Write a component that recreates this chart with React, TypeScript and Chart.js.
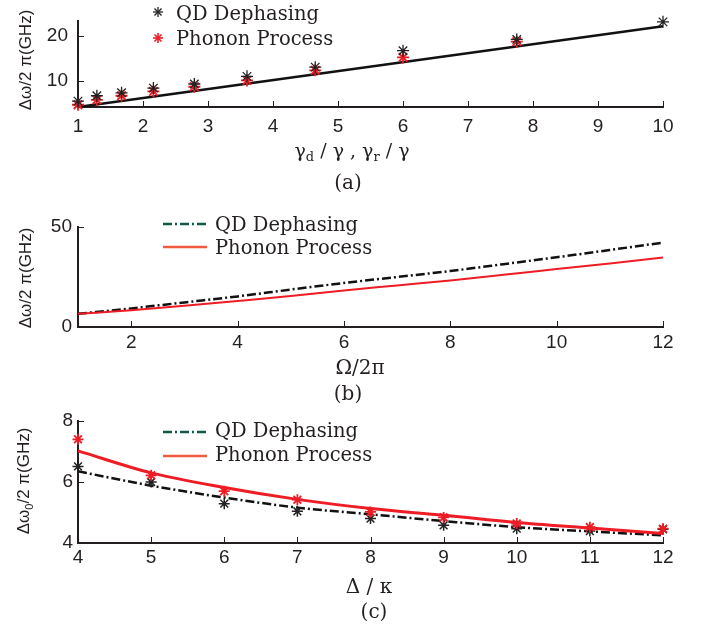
import React, { useEffect, useRef } from "react";
import { Chart, registerables } from "chart.js";
Chart.register(...registerables);

// ---------- Panel (a) ----------
const aQDX = [1, 1.29, 1.67, 2.16, 2.79, 3.6, 4.65, 6.0, 7.75, 10];
const aQD = [5.5, 6.7, 7.35, 8.4, 9.3, 11.0, 13.05, 16.7, 19.2, 23.1];
const aPhononX = [1, 1.29, 1.67, 2.16, 2.79, 3.6, 4.65, 6.0, 7.75];
const aPhonon = [4.7, 5.8, 6.7, 7.65, 8.7, 10.1, 12.35, 15.2, 18.7];
const aFitX = [1, 10];
const aFit = [4.2, 22.1];
const aXTicks = [1, 2, 3, 4, 5, 6, 7, 8, 9, 10];
const aYTicks = [10, 20];
const aXRange = [1, 10];
const aYRange = [4.2, 23.2];

// ---------- Panel (b) ----------
const bX = [1, 2, 3, 4, 5, 6, 7, 8, 9, 10, 11, 12];
const bQD = [6.6, 9.3, 12.3, 15.3, 18.7, 22.0, 25.0, 28.0, 31.4, 34.9, 38.5, 42.2];
const bPhonon = [6.6, 8.4, 10.6, 13.0, 15.5, 18.3, 20.8, 23.3, 26.1, 29.0, 31.8, 34.7];
const bXTicks = [2, 4, 6, 8, 10, 12];
const bYTicks = [0, 50];
const bXRange = [1, 12];
const bYRange = [0, 50];

// ---------- Panel (c) ----------
const cX = [4, 5, 6, 7, 8, 9, 10, 11, 12];
const cQDPts = [6.51, 6.0, 5.29, 5.04, 4.8, 4.58, 4.47, 4.39, 4.45];
const cPhononPts = [7.4, 6.22, 5.7, 5.42, 5.02, 4.84, 4.64, 4.52, 4.47];
const cQDLine = [6.35, 5.88, 5.49, 5.16, 4.94, 4.72, 4.52, 4.38, 4.25];
const cPhononLine = [7.02, 6.3, 5.82, 5.43, 5.13, 4.91, 4.67, 4.49, 4.31];
const cXTicks = [4, 5, 6, 7, 8, 9, 10, 11, 12];
const cYTicks = [4, 6, 8];
const cXRange = [4, 12];
const cYRange = [4, 8];

const AXIS = "#231f20";
const RED = "#ee1c25";
const SANS = "'Liberation Sans', Arial, sans-serif";
const SERIF = "'DejaVu Serif', 'Liberation Serif', serif";
const DASHDOT = [9, 3, 2, 3];

const pts = (xs: number[], ys: number[]) => xs.map((x, i) => ({ x, y: ys[i] }));

const inwardTicks = {
  id: "inwardTicks",
  afterDatasetsDraw(chart: any) {
    const { ctx, chartArea, scales } = chart;
    ctx.save();
    ctx.strokeStyle = AXIS;
    ctx.lineWidth = 1;
    scales.x.ticks.forEach((t: any) => {
      const px = Math.round(scales.x.getPixelForValue(t.value)) + 0.5;
      ctx.beginPath();
      ctx.moveTo(px, chartArea.bottom);
      ctx.lineTo(px, chartArea.bottom - 6);
      ctx.stroke();
    });
    scales.y.ticks.forEach((t: any) => {
      const py = Math.round(scales.y.getPixelForValue(t.value)) + 0.5;
      ctx.beginPath();
      ctx.moveTo(chartArea.left, py);
      ctx.lineTo(chartArea.left + 6, py);
      ctx.stroke();
    });
    ctx.restore();
  },
};

function axisOpts(
  axis: "x" | "y",
  range: number[],
  ticks: number[],
  fit: number,
  pad: number
) {
  return {
    type: "linear",
    min: range[0],
    max: range[1],
    afterBuildTicks: (s: any) => {
      s.ticks = ticks.map((v) => ({ value: v }));
    },
    afterFit: (s: any) => {
      if (axis === "x") s.height = fit;
      else s.width = fit;
    },
    grid: { display: false, drawTicks: false },
    border: { display: true, color: AXIS, width: 2 },
    ticks: {
      color: AXIS,
      font: { family: SANS, size: 19 },
      padding: pad,
      autoSkip: false,
      maxRotation: 0,
      callback: (v: any) => String(v),
    },
  };
}

function makeConfig(
  datasets: any[],
  p: {
    padTop: number;
    xRange: number[];
    xTicks: number[];
    xFit: number;
    xPad: number;
    yRange: number[];
    yTicks: number[];
    yPad: number;
  }
): any {
  return {
    type: "scatter",
    data: { datasets },
    options: {
      responsive: false,
      animation: false,
      devicePixelRatio: 1,
      layout: { padding: { top: p.padTop, right: 53, bottom: 0, left: 0 } },
      plugins: { legend: { display: false }, tooltip: { enabled: false } },
      scales: {
        x: axisOpts("x", p.xRange, p.xTicks, p.xFit, p.xPad),
        y: axisOpts("y", p.yRange, p.yTicks, 78, p.yPad),
      },
    },
    plugins: [inwardTicks],
  };
}

const starDs = (data: any[], color: string, r: number, bw: number) => ({
  data,
  showLine: false,
  pointStyle: "star",
  pointRadius: r,
  borderColor: color,
  backgroundColor: color,
  pointBorderWidth: bw,
  clip: false,
});

const lineDs = (data: any[], color: string, w: number, dash: number[] = []) => ({
  data,
  showLine: true,
  pointRadius: 0,
  borderColor: color,
  backgroundColor: color,
  borderWidth: w,
  borderDash: dash,
  cubicInterpolationMode: "monotone",
  clip: false,
});

function Star({ color, x, y, r = 5, w = 1.3 }: any) {
  const d = r * 0.7071;
  return (
    <svg
      width={2 * r + 4}
      height={2 * r + 4}
      style={{ position: "absolute", left: x - r - 2, top: y - r - 2 }}
    >
      <g stroke={color} strokeWidth={w} transform={`translate(${r + 2},${r + 2})`}>
        <line x1={-r} y1={0} x2={r} y2={0} />
        <line x1={0} y1={-r} x2={0} y2={r} />
        <line x1={-d} y1={-d} x2={d} y2={d} />
        <line x1={-d} y1={d} x2={d} y2={-d} />
      </g>
    </svg>
  );
}

function LineSample({ x1, x2, y, color, w, dash }: any) {
  return (
    <svg
      width={x2 - x1}
      height={6}
      style={{ position: "absolute", left: x1, top: y - 3 }}
    >
      <line
        x1={0}
        y1={3}
        x2={x2 - x1}
        y2={3}
        stroke={color}
        strokeWidth={w}
        strokeDasharray={dash ? dash.join(" ") : undefined}
      />
    </svg>
  );
}

function Txt({ x, y, children, font = SERIF, size = 19.5, align = "center" }: any) {
  const tx = align === "center" ? "-50%" : "0";
  return (
    <div
      style={{
        position: "absolute",
        left: x,
        top: y,
        transform: `translate(${tx},-50%)`,
        fontFamily: font,
        fontSize: size,
        lineHeight: 1,
        whiteSpace: "nowrap",
        color: AXIS,
      }}
    >
      {children}
    </div>
  );
}

function YTitle({ x, y, sub }: any) {
  return (
    <div
      style={{
        position: "absolute",
        left: x,
        top: y,
        transform: "translate(-50%,-50%) rotate(-90deg)",
        fontFamily: SANS,
        fontSize: 17,
        lineHeight: 1,
        whiteSpace: "nowrap",
        color: AXIS,
      }}
    >
      Δω{sub ? <sub style={{ fontSize: 11 }}>0</sub> : null}/2 π(GHz)
    </div>
  );
}

export default function App() {
  const refA = useRef<HTMLCanvasElement>(null);
  const refB = useRef<HTMLCanvasElement>(null);
  const refC = useRef<HTMLCanvasElement>(null);

  useEffect(() => {
    const chA = new Chart(
      refA.current as HTMLCanvasElement,
      makeConfig(
        [
          starDs(pts(aQDX, aQD), "#222", 6, 1.3),
          starDs(pts(aPhononX, aPhonon), RED, 6, 1.8),
          lineDs(pts(aFitX, aFit), "#111", 2.5),
        ],
        {
          padTop: 16,
          xRange: aXRange,
          xTicks: aXTicks,
          xFit: 33,
          xPad: 8,
          yRange: aYRange,
          yTicks: aYTicks,
          yPad: 10,
        }
      )
    );
    const chB = new Chart(
      refB.current as HTMLCanvasElement,
      makeConfig(
        [
          lineDs(pts(bX, bPhonon), RED, 2),
          lineDs(pts(bX, bQD), "#111", 2.5, DASHDOT),
        ],
        {
          padTop: 27,
          xRange: bXRange,
          xTicks: bXTicks,
          xFit: 33,
          xPad: 4,
          yRange: bYRange,
          yTicks: bYTicks,
          yPad: 6,
        }
      )
    );
    const chC = new Chart(
      refC.current as HTMLCanvasElement,
      makeConfig(
        [
          starDs(pts(cX, cPhononPts), RED, 5.5, 1.8),
          lineDs(pts(cX, cPhononLine), RED, 3),
          starDs(pts(cX, cQDPts), "#222", 5.5, 1.5),
          lineDs(pts(cX, cQDLine), "#111", 2.5, DASHDOT),
        ],
        {
          padTop: 21,
          xRange: cXRange,
          xTicks: cXTicks,
          xFit: 32,
          xPad: 3,
          yRange: cYRange,
          yTicks: cYTicks,
          yPad: 5,
        }
      )
    );
    return () => {
      chA.destroy();
      chB.destroy();
      chC.destroy();
    };
  }, []);

  return (
    <div
      style={{
        position: "fixed",
        left: 0,
        top: 0,
        width: 716,
        height: 631,
        background: "#fff",
        overflow: "hidden",
      }}
    >
      <canvas ref={refA} width={716} height={140} style={{ position: "absolute", left: 0, top: 0 }} />
      <canvas ref={refB} width={716} height={160} style={{ position: "absolute", left: 0, top: 200 }} />
      <canvas ref={refC} width={716} height={175} style={{ position: "absolute", left: 0, top: 400 }} />

      {/* Panel (a) */}
      <YTitle x={25} y={60} />
      <Star color="#222" x={158} y={12} r={5} w={1.3} />
      <Star color={RED} x={158} y={38} r={5} w={1.6} />
      <Txt x={176} y={14} align="left">QD Dephasing</Txt>
      <Txt x={176} y={39} align="left">Phonon Process</Txt>
      <Txt x={352} y={152} size={19}>
        γ<sub style={{ fontSize: 13 }}>d</sub> / γ , γ<sub style={{ fontSize: 13 }}>r</sub> / γ
      </Txt>
      <Txt x={348} y={182} size={20}>(a)</Txt>

      {/* Panel (b) */}
      <YTitle x={25} y={278} />
      <LineSample x1={163} x2={207} y={224} color="#12594a" w={2.5} dash={DASHDOT} />
      <LineSample x1={163} x2={207} y={247} color="#f05a3f" w={2.5} />
      <Txt x={215} y={225} align="left">QD Dephasing</Txt>
      <Txt x={215} y={248} align="left">Phonon Process</Txt>
      <Txt x={360} y={367} size={20}>Ω/2π</Txt>
      <Txt x={348} y={393} size={20}>(b)</Txt>

      {/* Panel (c) */}
      <YTitle x={25} y={481} sub />
      <LineSample x1={163} x2={207} y={432} color="#12594a" w={2.5} dash={DASHDOT} />
      <LineSample x1={163} x2={207} y={456} color="#f05a3f" w={2.5} />
      <Txt x={215} y={431} align="left">QD Dephasing</Txt>
      <Txt x={215} y={455} align="left">Phonon Process</Txt>
      <Txt x={369} y={586} size={20}>Δ / κ</Txt>
      <Txt x={374} y={611} size={20}>(c)</Txt>
    </div>
  );
}
